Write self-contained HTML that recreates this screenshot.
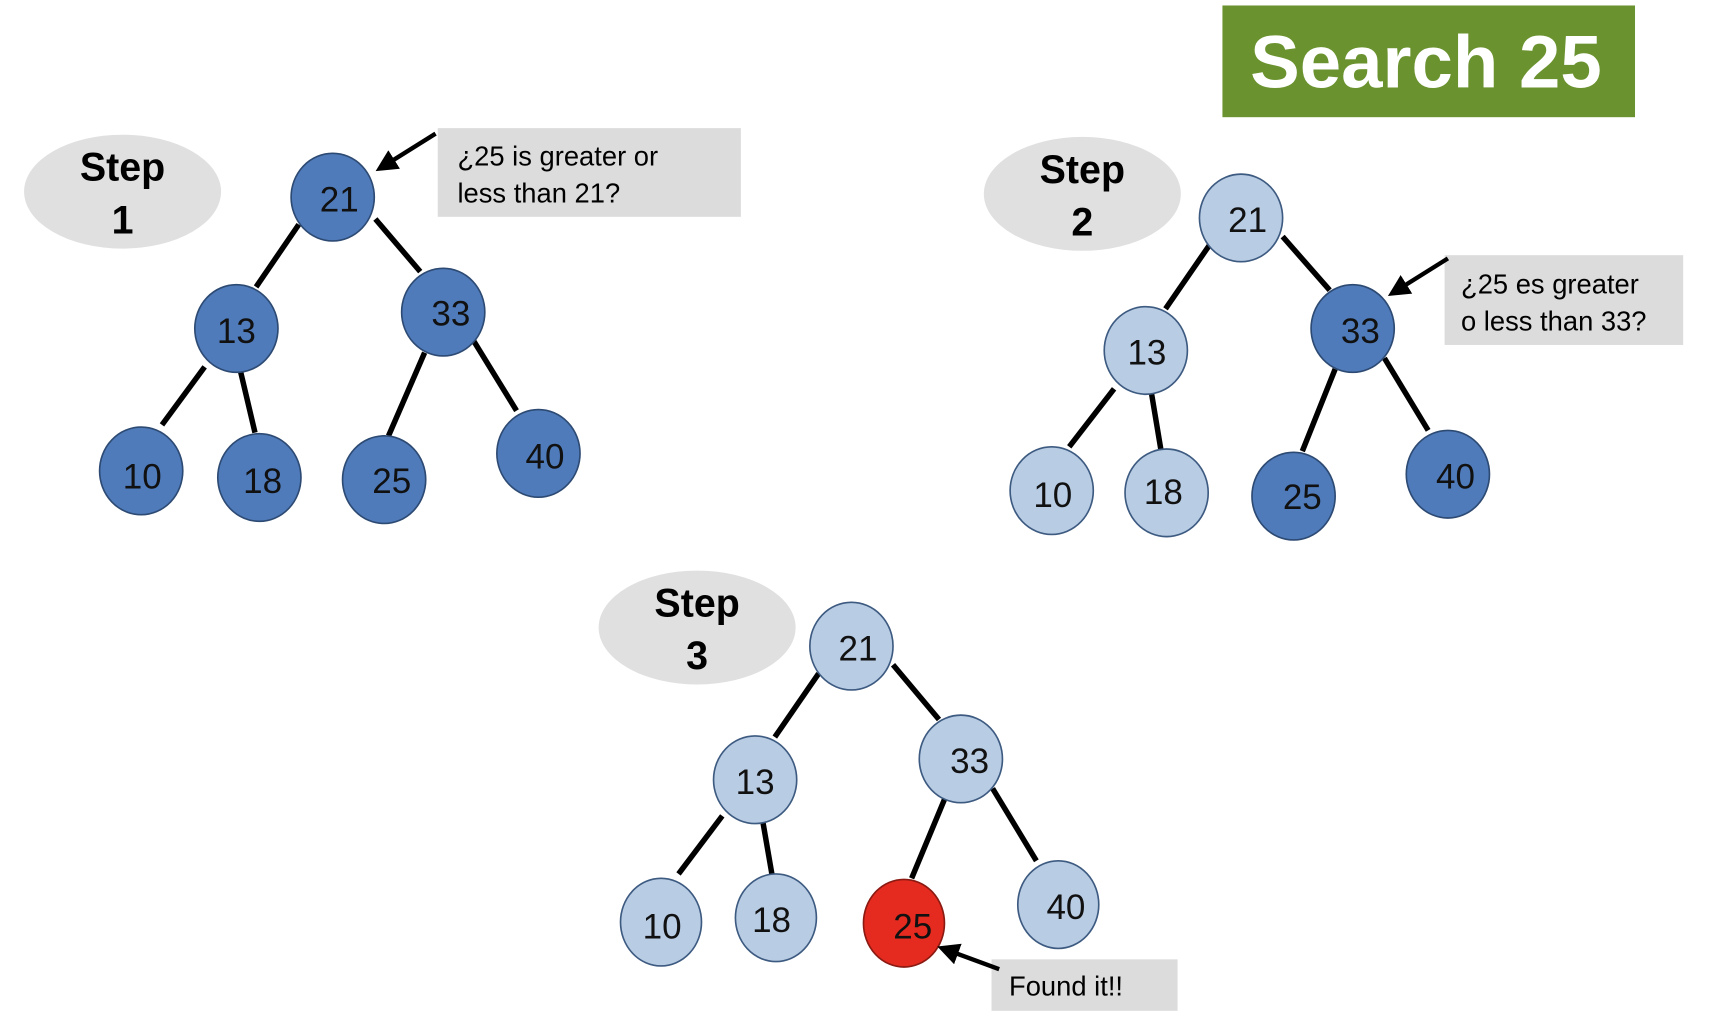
<!DOCTYPE html>
<html><head><meta charset="utf-8"><style>
html,body{margin:0;padding:0;background:#fff;}
svg{display:block;}
text{font-family:"Liberation Sans",sans-serif;}
</style></head><body>
<svg width="1716" height="1036" viewBox="0 0 1568 946" preserveAspectRatio="none" xmlns="http://www.w3.org/2000/svg">
<defs>
<marker id="ah" markerWidth="6" markerHeight="6" refX="3" refY="3" orient="auto" markerUnits="strokeWidth">
<path d="M0,0.5 L5,3 L0,5.5 Z" fill="#000"/>
</marker>
</defs>
<rect x="1117" y="5" width="377" height="102" fill="#6a922e"/>
<text x="1303" y="80" font-size="68" font-weight="bold" fill="#fff" text-anchor="middle">Search 25</text>

<!-- Step 1 -->
<ellipse cx="112" cy="175" rx="90" ry="52" fill="#e0e0e0"/>
<text x="112" y="165" font-size="36" font-weight="bold" text-anchor="middle">Step</text>
<text x="112" y="213" font-size="36" font-weight="bold" text-anchor="middle">1</text>
<g stroke="#000" stroke-width="5">
<line x1="273" y1="205" x2="234" y2="262"/><line x1="343" y1="200" x2="384" y2="248"/>
<line x1="187" y1="335" x2="148" y2="388"/><line x1="220" y1="340" x2="233" y2="395"/>
<line x1="388" y1="322" x2="355" y2="398"/><line x1="432" y1="310" x2="472" y2="375"/>
</g>
<g fill="#4f7bbb" stroke="#2d4a73" stroke-width="1.5">
<ellipse cx="304" cy="180" rx="38" ry="40"/><ellipse cx="216" cy="300" rx="38" ry="40"/>
<ellipse cx="405" cy="285" rx="38" ry="40"/><ellipse cx="129" cy="430" rx="38" ry="40"/>
<ellipse cx="237" cy="436" rx="38" ry="40"/><ellipse cx="351" cy="438" rx="38" ry="40"/>
<ellipse cx="492" cy="414" rx="38" ry="40"/>
</g>
<g font-size="32" fill="#111" text-anchor="middle">
<text x="310" y="193">21</text><text x="216" y="313">13</text><text x="412" y="297">33</text>
<text x="130" y="446">10</text><text x="240" y="450">18</text><text x="358" y="450">25</text><text x="498" y="428">40</text>
</g>
<rect x="400" y="117" width="277" height="81" fill="#dcdcdc"/>
<text x="418" y="151" font-size="25">¿25 is greater or</text>
<text x="418" y="185" font-size="25">less than 21?</text>
<line x1="398" y1="122" x2="350" y2="152" stroke="#000" stroke-width="4" marker-end="url(#ah)"/>

<!-- Step 2 -->
<ellipse cx="989" cy="177" rx="90" ry="52" fill="#e0e0e0"/>
<text x="989" y="167" font-size="36" font-weight="bold" text-anchor="middle">Step</text>
<text x="989" y="215" font-size="36" font-weight="bold" text-anchor="middle">2</text>
<g stroke="#000" stroke-width="5">
<line x1="1105" y1="224" x2="1065" y2="282"/><line x1="1172" y1="216" x2="1215" y2="265"/>
<line x1="1018" y1="355" x2="977" y2="408"/><line x1="1052" y1="358" x2="1061" y2="412"/>
<line x1="1220" y1="337" x2="1190" y2="412"/><line x1="1265" y1="327" x2="1305" y2="393"/>
</g>
<g fill="#b8cce4" stroke="#3d5a80" stroke-width="1.5">
<ellipse cx="1134" cy="199" rx="38" ry="40"/><ellipse cx="1047" cy="320" rx="38" ry="40"/>
<ellipse cx="961" cy="448" rx="38" ry="40"/><ellipse cx="1066" cy="450" rx="38" ry="40"/>
</g>
<g fill="#4f7bbb" stroke="#2d4a73" stroke-width="1.5">
<ellipse cx="1236" cy="300" rx="38" ry="40"/><ellipse cx="1182" cy="453" rx="38" ry="40"/>
<ellipse cx="1323" cy="433" rx="38" ry="40"/>
</g>
<g font-size="32" fill="#111" text-anchor="middle">
<text x="1140" y="212">21</text><text x="1048" y="333">13</text><text x="1243" y="313">33</text>
<text x="962" y="463">10</text><text x="1063" y="460">18</text><text x="1190" y="465">25</text><text x="1330" y="446">40</text>
</g>
<rect x="1320" y="233" width="218" height="82" fill="#dcdcdc"/>
<text x="1335" y="268" font-size="25">¿25 es greater</text>
<text x="1335" y="302" font-size="25">o less than 33?</text>
<line x1="1323" y1="236" x2="1275" y2="266" stroke="#000" stroke-width="4" marker-end="url(#ah)"/>

<!-- Step 3 -->
<ellipse cx="637" cy="573" rx="90" ry="52" fill="#e0e0e0"/>
<text x="637" y="563" font-size="36" font-weight="bold" text-anchor="middle">Step</text>
<text x="637" y="611" font-size="36" font-weight="bold" text-anchor="middle">3</text>
<g stroke="#000" stroke-width="5">
<line x1="748" y1="615" x2="708" y2="673"/><line x1="816" y1="607" x2="858" y2="657"/>
<line x1="660" y1="745" x2="620" y2="798"/><line x1="697" y1="750" x2="706" y2="802"/>
<line x1="863" y1="730" x2="833" y2="802"/><line x1="907" y1="720" x2="947" y2="786"/>
</g>
<g fill="#b8cce4" stroke="#3d5a80" stroke-width="1.5">
<ellipse cx="778" cy="590" rx="38" ry="40"/><ellipse cx="690" cy="712" rx="38" ry="40"/>
<ellipse cx="878" cy="693" rx="38" ry="40"/><ellipse cx="604" cy="842" rx="37" ry="40"/>
<ellipse cx="709" cy="838" rx="37" ry="40"/><ellipse cx="967" cy="826" rx="37" ry="40"/>
</g>
<ellipse cx="826" cy="843" rx="37" ry="40" fill="#e52b1f" stroke="#8a1a12" stroke-width="1.5"/>
<g font-size="32" fill="#111" text-anchor="middle">
<text x="784" y="603">21</text><text x="690" y="725">13</text><text x="886" y="706">33</text>
<text x="605" y="857">10</text><text x="705" y="851">18</text><text x="834" y="857">25</text><text x="974" y="839">40</text>
</g>
<rect x="906" y="876" width="170" height="47" fill="#dcdcdc"/>
<text x="922" y="909" font-size="25">Found it!!</text>
<line x1="913" y1="885" x2="864" y2="867" stroke="#000" stroke-width="4" marker-end="url(#ah)"/>
</svg>
</body></html>
